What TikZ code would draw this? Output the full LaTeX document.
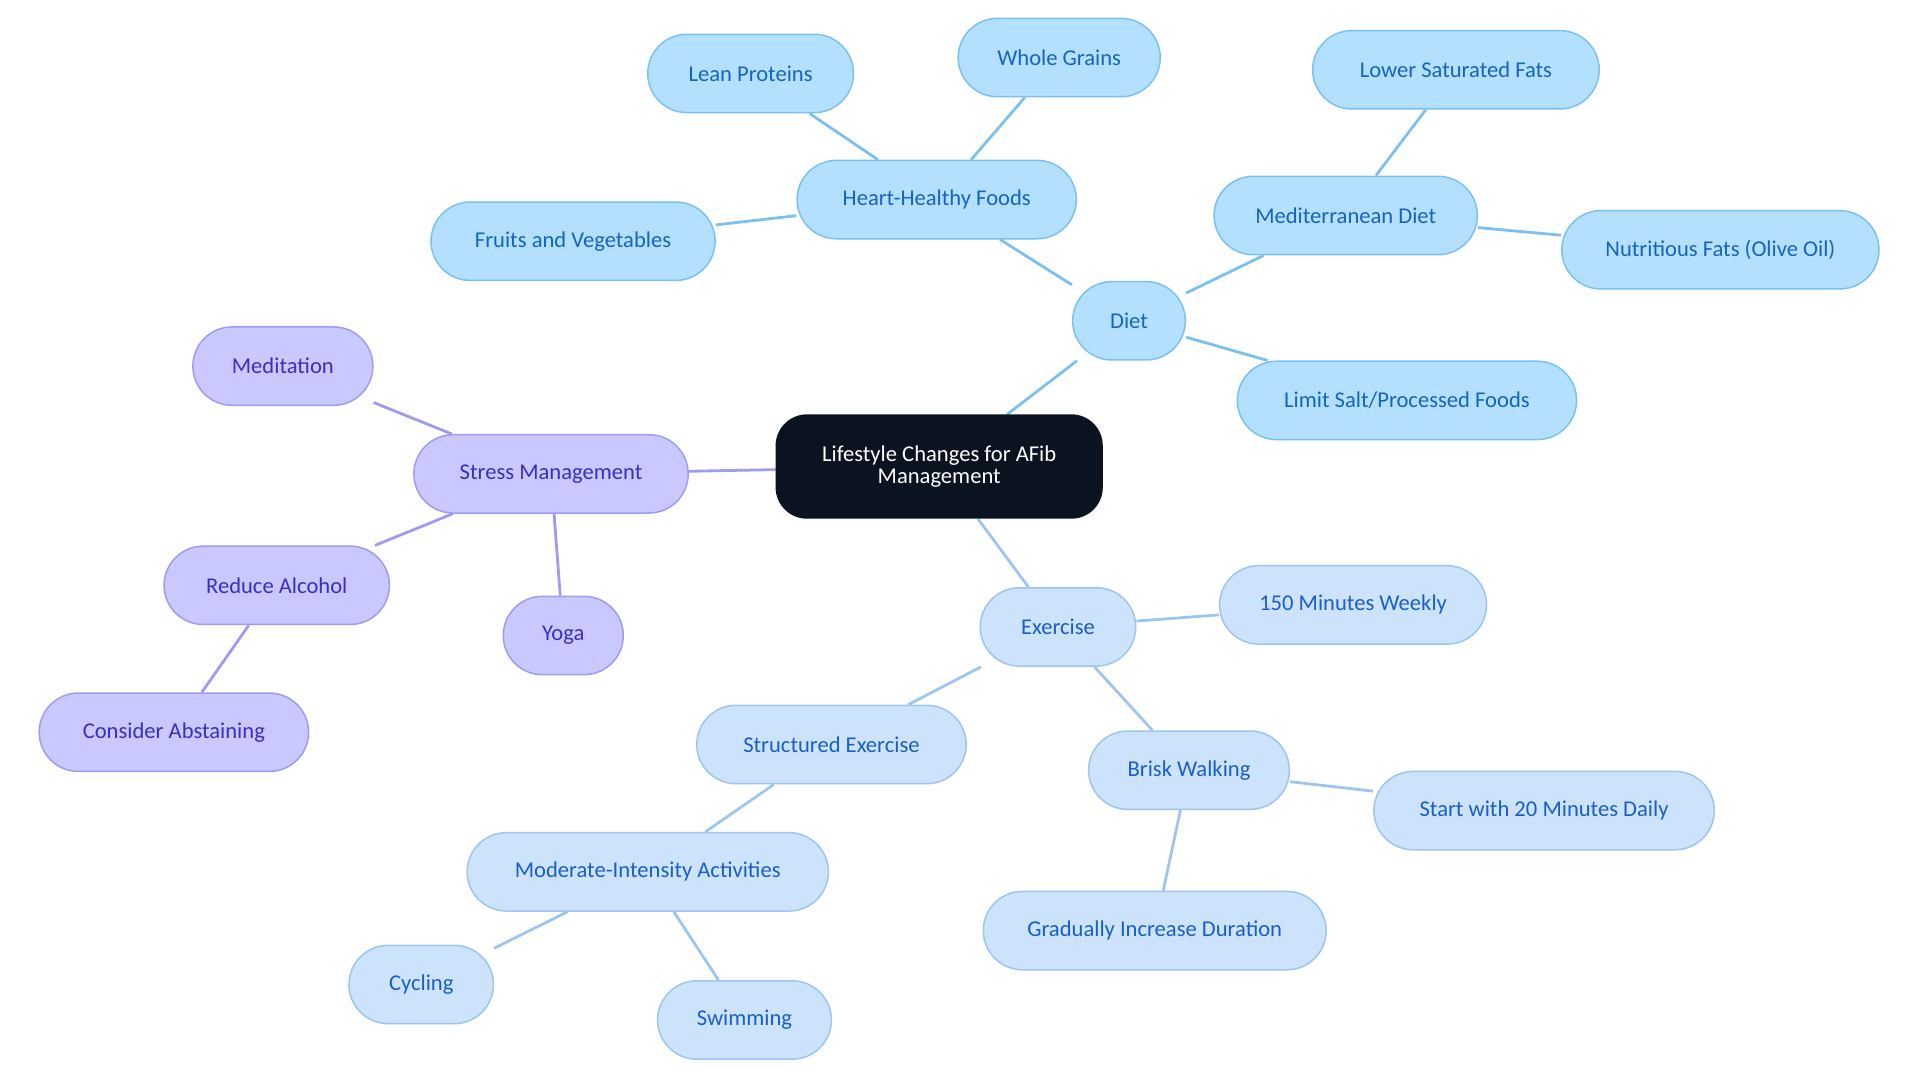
\documentclass[tikz,border=0pt]{standalone}
\usepackage{fontspec}
\setmainfont{Carlito}
\usetikzlibrary{backgrounds}
\definecolor{dfill}{HTML}{B3E0FF}\definecolor{dline}{HTML}{7CC0F0}\definecolor{dtext}{HTML}{1565C0}
\definecolor{efill}{HTML}{CCE3FB}\definecolor{eline}{HTML}{9DC5F0}\definecolor{etext}{HTML}{1A5FC8}
\definecolor{sfill}{HTML}{C9C9FF}\definecolor{sline}{HTML}{9E9BF0}\definecolor{stext}{HTML}{3A2FC0}
\definecolor{cfill}{HTML}{0B1220}
\tikzset{
 base/.style={rounded corners=0.64cm,minimum height=1.28cm,font=\fontsize{10.5}{12}\selectfont,line width=0.7pt,align=center},
 d/.style={base,fill=dfill,draw=dline,text=dtext,minimum width=#1*0.02cm},
 e/.style={base,fill=efill,draw=eline,text=etext,minimum width=#1*0.02cm},
 s/.style={base,fill=sfill,draw=sline,text=stext,minimum width=#1*0.02cm},
 de/.style={draw=dline,line width=1.3pt},
 ee/.style={draw=eline,line width=1.3pt},
 se/.style={draw=sline,line width=1.3pt},
}
\begin{document}
\begin{tikzpicture}[x=0.02cm,y=-0.02cm]
\useasboundingbox (0,0) rectangle (1568,884);
\node[base,fill=cfill,draw=cfill,text=white,minimum width=266*0.02cm,minimum height=84*0.02cm,rounded corners=0.5cm] (c) at (767,381) {Lifestyle Changes for AFib\\[-2pt]Management};
\node[d=92] (diet) at (922,262) {Diet};
\node[d=228] (hh) at (765,163) {Heart-Healthy Foods};
\node[d=168] (lp) at (613,60) {Lean Proteins};
\node[d=165] (wg) at (865,47) {Whole Grains};
\node[d=232] (fv) at (468,197) {Fruits and Vegetables};
\node[d=215] (md) at (1099,176) {Mediterranean Diet};
\node[d=234] (ls) at (1189,57) {Lower Saturated Fats};
\node[d=259] (nf) at (1405,204) {Nutritious Fats (Olive Oil)};
\node[d=277] (sa) at (1149,327) {Limit Salt/Processed Foods};
\node[s=224] (sm) at (450,387) {Stress Management};
\node[s=147] (me) at (231,299) {Meditation};
\node[s=184] (ra) at (226,478) {Reduce Alcohol};
\node[s=98] (yo) at (460,519) {Yoga};
\node[s=220] (ca) at (142,598) {Consider Abstaining};
\node[e=127] (ex) at (864,512) {Exercise};
\node[e=218] (mw) at (1105,494) {150 Minutes Weekly};
\node[e=220] (se) at (679,608) {Structured Exercise};
\node[e=164] (bw) at (971,629) {Brisk Walking};
\node[e=278] (st) at (1261,662) {Start with 20 Minutes Daily};
\node[e=295] (mi) at (529,712) {Moderate-Intensity Activities};
\node[e=280] (gi) at (943,760) {Gradually Increase Duration};
\node[e=118] (cy) at (344,804) {Cycling};
\node[e=142] (sw) at (608,833) {Swimming};
\begin{scope}[on background layer]
\draw[de] (c)--(diet); \draw[de] (diet)--(hh); \draw[de] (hh)--(lp); \draw[de] (hh)--(wg); \draw[de] (hh)--(fv);
\draw[de] (diet)--(md); \draw[de] (md)--(ls); \draw[de] (md)--(nf); \draw[de] (diet)--(sa);
\draw[se] (c)--(sm); \draw[se] (sm)--(me); \draw[se] (sm)--(ra); \draw[se] (sm)--(yo); \draw[se] (ra)--(ca);
\draw[ee] (c)--(ex); \draw[ee] (ex)--(mw); \draw[ee] (ex)--(se); \draw[ee] (ex)--(bw); \draw[ee] (bw)--(st);
\draw[ee] (bw)--(gi); \draw[ee] (se)--(mi); \draw[ee] (mi)--(cy); \draw[ee] (mi)--(sw);
\end{scope}
\end{tikzpicture}
\end{document}
